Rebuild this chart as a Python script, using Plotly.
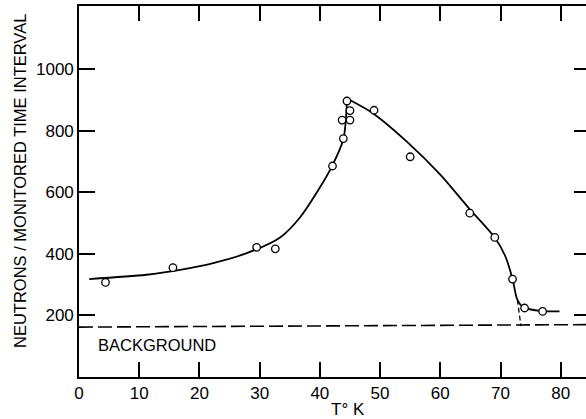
import plotly.graph_objects as go

# Measured points (T in K, neutrons / monitored time interval)
pt_T = [4.4, 15.6, 29.5, 32.6, 42.1, 43.9, 43.7, 45.0, 45.0, 44.5, 49.0, 55.0, 64.9, 69.05, 72.0, 74.0, 77.0]
pt_N = [307, 355, 421, 416, 685, 774, 834, 834, 865, 896, 866, 715, 532, 453, 318, 224, 213]

# Smooth curve drawn through the data (two branches meeting at the peak)
left_T = [1.7, 11.2, 16.8, 22.3, 27.85, 33.4, 36.7, 40.0, 42.0, 43.9, 44.5]
left_N = [318, 332, 348, 370, 402, 453, 518, 615, 684, 772, 897]
right_T = [44.9, 48.9, 54.4, 60.0, 64.7, 69.1, 70.8, 72.0, 72.8, 73.8, 76.96, 79.8]
right_N = [900, 855, 765, 657, 549, 451, 392, 318, 251, 226, 214, 213]

# Dashed extrapolation to background, and background level
ext_T = [72.8, 73.4]
ext_N = [251, 165]
bg_T = [0, 84.2]
bg_N = [162, 170]

x_ticks = [0, 10, 20, 30, 40, 50, 60, 70, 80]
y_ticks = [200, 400, 600, 800, 1000]

X_MAX = 84.2
Y_MAX = 1204.5
FONT = "Liberation Sans, Arial, sans-serif"

fig = go.Figure()

fig.add_trace(go.Scatter(x=bg_T, y=bg_N, mode="lines",
                         line=dict(color="black", width=1.6, dash="14px,5px"),
                         showlegend=False, hoverinfo="skip"))
fig.add_trace(go.Scatter(x=ext_T, y=ext_N, mode="lines",
                         line=dict(color="black", width=1.3, dash="5px,3px"),
                         showlegend=False, hoverinfo="skip"))
fig.add_trace(go.Scatter(x=left_T, y=left_N, mode="lines",
                         line=dict(color="black", width=1.8, shape="spline", smoothing=0.8),
                         showlegend=False, hoverinfo="skip"))
fig.add_trace(go.Scatter(x=right_T, y=right_N, mode="lines",
                         line=dict(color="black", width=1.8, shape="spline", smoothing=0.8),
                         showlegend=False, hoverinfo="skip"))
fig.add_trace(go.Scatter(x=pt_T, y=pt_N, mode="markers",
                         marker=dict(symbol="circle", size=7.5, color="white",
                                     line=dict(color="black", width=1.3)),
                         showlegend=False))
# invisible trace to register the right-hand tick axis
fig.add_trace(go.Scatter(x=[0], y=[0], yaxis="y2", mode="markers",
                         marker=dict(opacity=0), showlegend=False, hoverinfo="skip"))

fig.update_layout(
    width=586, height=419,
    margin=dict(l=79, r=0, t=6, b=42),
    paper_bgcolor="white", plot_bgcolor="white",
    font=dict(family=FONT, color="black", size=17),
    xaxis=dict(range=[0, X_MAX], tickvals=x_ticks, ticktext=[str(v) for v in x_ticks],
               ticks="inside", ticklen=15, tickwidth=1.5, tickcolor="black",
               showline=True, linewidth=1.6, linecolor="black", mirror="ticks",
               showgrid=False, zeroline=False,
               tickfont=dict(family=FONT, size=17, color="black")),
    yaxis=dict(range=[0, Y_MAX], tickvals=y_ticks, ticktext=[str(v) for v in y_ticks],
               ticks="inside", ticklen=16, tickwidth=1.5, tickcolor="black",
               showline=True, linewidth=1.6, linecolor="black", mirror=False,
               showgrid=False, zeroline=False,
               tickfont=dict(family=FONT, size=17, color="black")),
    yaxis2=dict(range=[0, Y_MAX], overlaying="y", side="right", tickvals=y_ticks,
                ticks="inside", ticklen=12, tickwidth=1.5, tickcolor="black",
                showline=False, showticklabels=False, showgrid=False, zeroline=False),
    annotations=[
        dict(text="NEUTRONS / MONITORED TIME INTERVAL", textangle=-90,
             xref="paper", yref="paper", x=(20 - 79) / 507, y=(377 - 181) / 371,
             xanchor="center", yanchor="middle", showarrow=False,
             font=dict(family=FONT, size=16.5, color="black")),
        dict(text="T° K", xref="x", yref="paper", x=44.6, y=(377 - 410) / 371,
             xanchor="center", yanchor="middle", showarrow=False,
             font=dict(family=FONT, size=17, color="black")),
        dict(text="BACKGROUND", xref="x", yref="y", x=2.8, y=105,
             xanchor="left", yanchor="middle", showarrow=False,
             font=dict(family=FONT, size=16.5, color="black")),
    ],
)

fig.write_html("out.html")
